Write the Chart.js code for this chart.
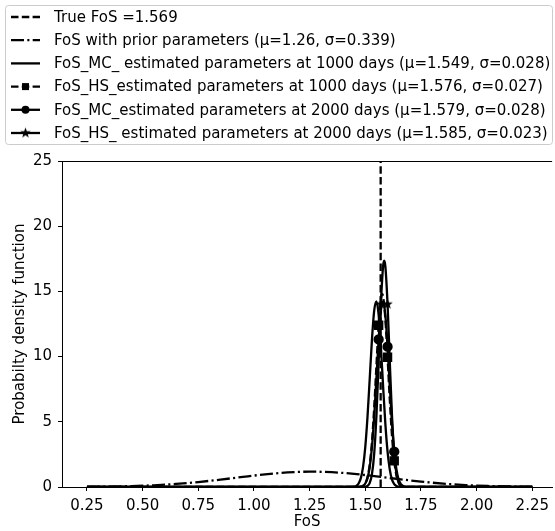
<!DOCTYPE html>
<html>
<head>
<meta charset="utf-8">
<script src="https://cdn.jsdelivr.net/npm/chart.js@4.4.0/dist/chart.umd.min.js"></script>
<style>
html, body { margin: 0; padding: 0; background: #fff; }
</style>
</head>
<body>
<canvas id="fosChart" width="555" height="531"></canvas>
<script>
// axis ticks
const xTicks = [0.25, 0.50, 0.75, 1.00, 1.25, 1.50, 1.75, 2.00, 2.25];
const yTicks = [0, 5, 10, 15, 20, 25];

// true factor of safety (vertical reference line)
const trueFoS = 1.569;
const trueX = [1.569, 1.569];
const trueY = [0, 25];

// prior parameters
const priorX = [0.25, 0.35, 0.45, 0.55, 0.65, 0.75, 0.85, 0.95, 1.05, 1.15, 1.25, 1.35, 1.45, 1.55, 1.65, 1.75, 1.85, 1.95, 2.05, 2.15, 2.25];
const priorY = [0.014, 0.032, 0.068, 0.131, 0.233, 0.380, 0.567, 0.775, 0.971, 1.116, 1.176, 1.136, 1.006, 0.816, 0.607, 0.414, 0.259, 0.148, 0.078, 0.038, 0.017];

// MC, 1000 days
const mc1000X = [0.25, 1.43, 1.44, 1.45, 1.46, 1.47, 1.48, 1.49, 1.50, 1.51, 1.52, 1.53, 1.54, 1.55, 1.56, 1.57, 1.58, 1.59, 1.60, 1.61, 1.62, 1.63, 1.64, 1.65, 1.66, 2.25];
const mc1000Y = [0, 0, 0.01, 0.03, 0.09, 0.27, 0.68, 1.55, 3.08, 5.40, 8.34, 11.32, 13.53, 14.24, 13.19, 10.76, 7.72, 4.88, 2.71, 1.33, 0.57, 0.22, 0.07, 0.02, 0, 0];

// HS, 1000 days
const hs1000X = [0.25, 1.46, 1.47, 1.48, 1.49, 1.50, 1.51, 1.52, 1.53, 1.54, 1.55, 1.56, 1.57, 1.576, 1.58, 1.59, 1.60, 1.61, 1.62, 1.63, 1.64, 1.65, 1.66, 1.67, 1.68, 1.69, 2.25];
const hs1000Y = [0, 0, 0.01, 0.03, 0.09, 0.28, 0.75, 1.72, 3.46, 6.07, 9.29, 12.40, 14.42, 14.78, 14.61, 12.92, 9.95, 6.69, 3.92, 2.00, 0.89, 0.35, 0.12, 0.03, 0.01, 0, 0];

// MC, 2000 days
const mc2000X = [0.25, 1.46, 1.47, 1.48, 1.49, 1.50, 1.51, 1.52, 1.53, 1.54, 1.55, 1.56, 1.57, 1.58, 1.59, 1.60, 1.61, 1.62, 1.63, 1.64, 1.65, 1.66, 1.67, 1.68, 1.69, 2.25];
const mc2000Y = [0, 0, 0.01, 0.03, 0.09, 0.27, 0.68, 1.55, 3.08, 5.40, 8.34, 11.32, 13.53, 14.24, 13.19, 10.76, 7.72, 4.88, 2.71, 1.33, 0.57, 0.22, 0.07, 0.02, 0, 0];

// HS, 2000 days
const hs2000X = [0.25, 1.49, 1.50, 1.51, 1.52, 1.53, 1.54, 1.55, 1.56, 1.57, 1.58, 1.585, 1.59, 1.60, 1.61, 1.62, 1.63, 1.64, 1.65, 1.66, 1.67, 1.68, 2.25];
const hs2000Y = [0, 0, 0.02, 0.09, 0.32, 0.99, 2.56, 5.45, 9.61, 14.02, 16.94, 17.35, 16.94, 14.02, 9.61, 5.45, 2.56, 0.99, 0.32, 0.09, 0.02, 0, 0];

// where the markers sit on the marked curves
const hs1000Marks = [1.56, 1.60, 1.63];
const mc2000Marks = [1.56, 1.60, 1.63];
const hs2000Marks = [1.57, 1.60, 1.63];

const labels = [
  "True FoS =" + trueFoS,
  "FoS with prior parameters (\u03bc=1.26, \u03c3=0.339)",
  "FoS_MC_ estimated parameters at 1000 days (\u03bc=1.549, \u03c3=0.028)",
  "FoS_HS_estimated parameters at 1000 days (\u03bc=1.576, \u03c3=0.027)",
  "FoS_MC_estimated parameters at 2000 days (\u03bc=1.579, \u03c3=0.028)",
  "FoS_HS_ estimated parameters at 2000 days (\u03bc=1.585, \u03c3=0.023)"
];

const FONT = "'DejaVu Sans', sans-serif";
const FS = 15;
const LW = 2.3;
const DASHED = [7.5, 3.3];
const DASHDOT = [13, 3.3, 2.1, 3.3];

// filled five point star for the HS 2000 markers
function makeStar(r) {
  const c = document.createElement("canvas");
  const s = Math.ceil(r * 2 + 2);
  c.width = s; c.height = s;
  const g = c.getContext("2d");
  g.fillStyle = "#000";
  g.beginPath();
  for (let i = 0; i < 10; i++) {
    const rr = i % 2 === 0 ? r : r * 0.42;
    const a = -Math.PI / 2 + i * Math.PI / 5;
    const px = s / 2 + rr * Math.cos(a);
    const py = s / 2 + rr * Math.sin(a);
    if (i === 0) g.moveTo(px, py); else g.lineTo(px, py);
  }
  g.closePath();
  g.fill();
  return c;
}
const starImg = makeStar(5.5);

function zip(xs, ys) {
  return xs.map((x, i) => ({ x: x, y: ys[i] }));
}

function markRadius(marks, r) {
  return ctx => {
    const p = ctx.raw;
    return p && marks.includes(p.x) ? r : 0;
  };
}

function curve(label, xs, ys, extra) {
  return Object.assign({
    label: label,
    data: zip(xs, ys),
    borderColor: "#000",
    backgroundColor: "#000",
    borderWidth: LW,
    pointRadius: 0,
    cubicInterpolationMode: "monotone",
    fill: false
  }, extra || {});
}

const datasets = [
  curve(labels[0], trueX, trueY, { borderDash: DASHED, cubicInterpolationMode: "default", tension: 0 }),
  curve(labels[1], priorX, priorY, { borderDash: DASHDOT }),
  curve(labels[2], mc1000X, mc1000Y),
  curve(labels[3], hs1000X, hs1000Y, { borderDash: DASHED, pointStyle: "rect", pointRadius: markRadius(hs1000Marks, 5) }),
  curve(labels[4], mc2000X, mc2000Y, { pointStyle: "circle", pointRadius: markRadius(mc2000Marks, 4) }),
  curve(labels[5], hs2000X, hs2000Y, { pointStyle: starImg, pointRadius: markRadius(hs2000Marks, 5) })
];

// legend handle styles, same order as datasets
const legendStyles = [
  { dash: DASHED, marker: null },
  { dash: DASHDOT, marker: null },
  { dash: [], marker: null },
  { dash: DASHED, marker: "rect" },
  { dash: [], marker: "circle" },
  { dash: [], marker: "star" }
];

const framePlugin = {
  id: "frame",
  afterDraw(chart) {
    const ctx = chart.ctx;
    const a = chart.chartArea;
    ctx.save();
    // top spine
    ctx.strokeStyle = "#000";
    ctx.lineWidth = 1;
    ctx.beginPath();
    ctx.moveTo(a.left, a.top + 0.5);
    ctx.lineTo(a.right, a.top + 0.5);
    ctx.stroke();

    // legend box
    ctx.strokeStyle = "#cccccc";
    ctx.beginPath();
    ctx.roundRect(5.5, 5.5, 547, 139, 3);
    ctx.fillStyle = "rgba(255,255,255,0.8)";
    ctx.fill();
    ctx.stroke();

    ctx.font = FS + "px " + FONT;
    ctx.textBaseline = "middle";
    ctx.fillStyle = "#000";
    labels.forEach((text, i) => {
      const y = 17 + i * 23.2;
      const st = legendStyles[i];
      ctx.strokeStyle = "#000";
      ctx.lineWidth = LW;
      ctx.setLineDash(st.dash);
      ctx.beginPath();
      ctx.moveTo(11, y);
      ctx.lineTo(40, y);
      ctx.stroke();
      ctx.setLineDash([]);
      if (st.marker === "rect") {
        ctx.fillRect(25.5 - 3.5, y - 3.5, 7, 7);
      } else if (st.marker === "circle") {
        ctx.beginPath();
        ctx.arc(25.5, y, 4, 0, Math.PI * 2);
        ctx.fill();
      } else if (st.marker === "star") {
        ctx.drawImage(starImg, 25.5 - starImg.width / 2, y - starImg.height / 2);
      }
      ctx.fillText(text, 54, y + 1);
    });
    ctx.restore();
  }
};

new Chart(document.getElementById("fosChart"), {
  type: "line",
  data: { datasets: datasets },
  options: {
    responsive: false,
    animation: false,
    events: [],
    layout: { padding: { top: 161, right: 0, left: 0, bottom: 0 } },
    plugins: { legend: { display: false }, tooltip: { enabled: false } },
    scales: {
      x: {
        type: "linear",
        min: 0.138,
        max: 2.339,
        afterBuildTicks: s => { s.ticks = xTicks.map(v => ({ value: v })); },
        afterFit: s => { s.height = 44; },
        ticks: {
          callback: v => Number(v).toFixed(2),
          color: "#000",
          font: { family: FONT, size: FS },
          maxRotation: 0,
          autoSkip: false,
          padding: 6
        },
        grid: { drawOnChartArea: false, drawTicks: true, tickLength: 4, color: "#000", lineWidth: 1 },
        border: { display: true, color: "#000", width: 1 },
        title: { display: true, text: "FoS", color: "#000", font: { family: FONT, size: FS }, padding: { top: 0, bottom: 0 } }
      },
      y: {
        type: "linear",
        min: 0,
        max: 25,
        afterBuildTicks: s => { s.ticks = yTicks.map(v => ({ value: v })); },
        afterFit: s => { s.width = 62; },
        ticks: {
          color: "#000",
          font: { family: FONT, size: FS },
          padding: 6
        },
        grid: { drawOnChartArea: false, drawTicks: true, tickLength: 4, color: "#000", lineWidth: 1 },
        border: { display: true, color: "#000", width: 1 },
        title: { display: true, text: "Probabilty density function", color: "#000", font: { family: FONT, size: FS }, padding: { top: 11, bottom: 0 } }
      }
    }
  },
  plugins: [framePlugin]
});
</script>
</body>
</html>
